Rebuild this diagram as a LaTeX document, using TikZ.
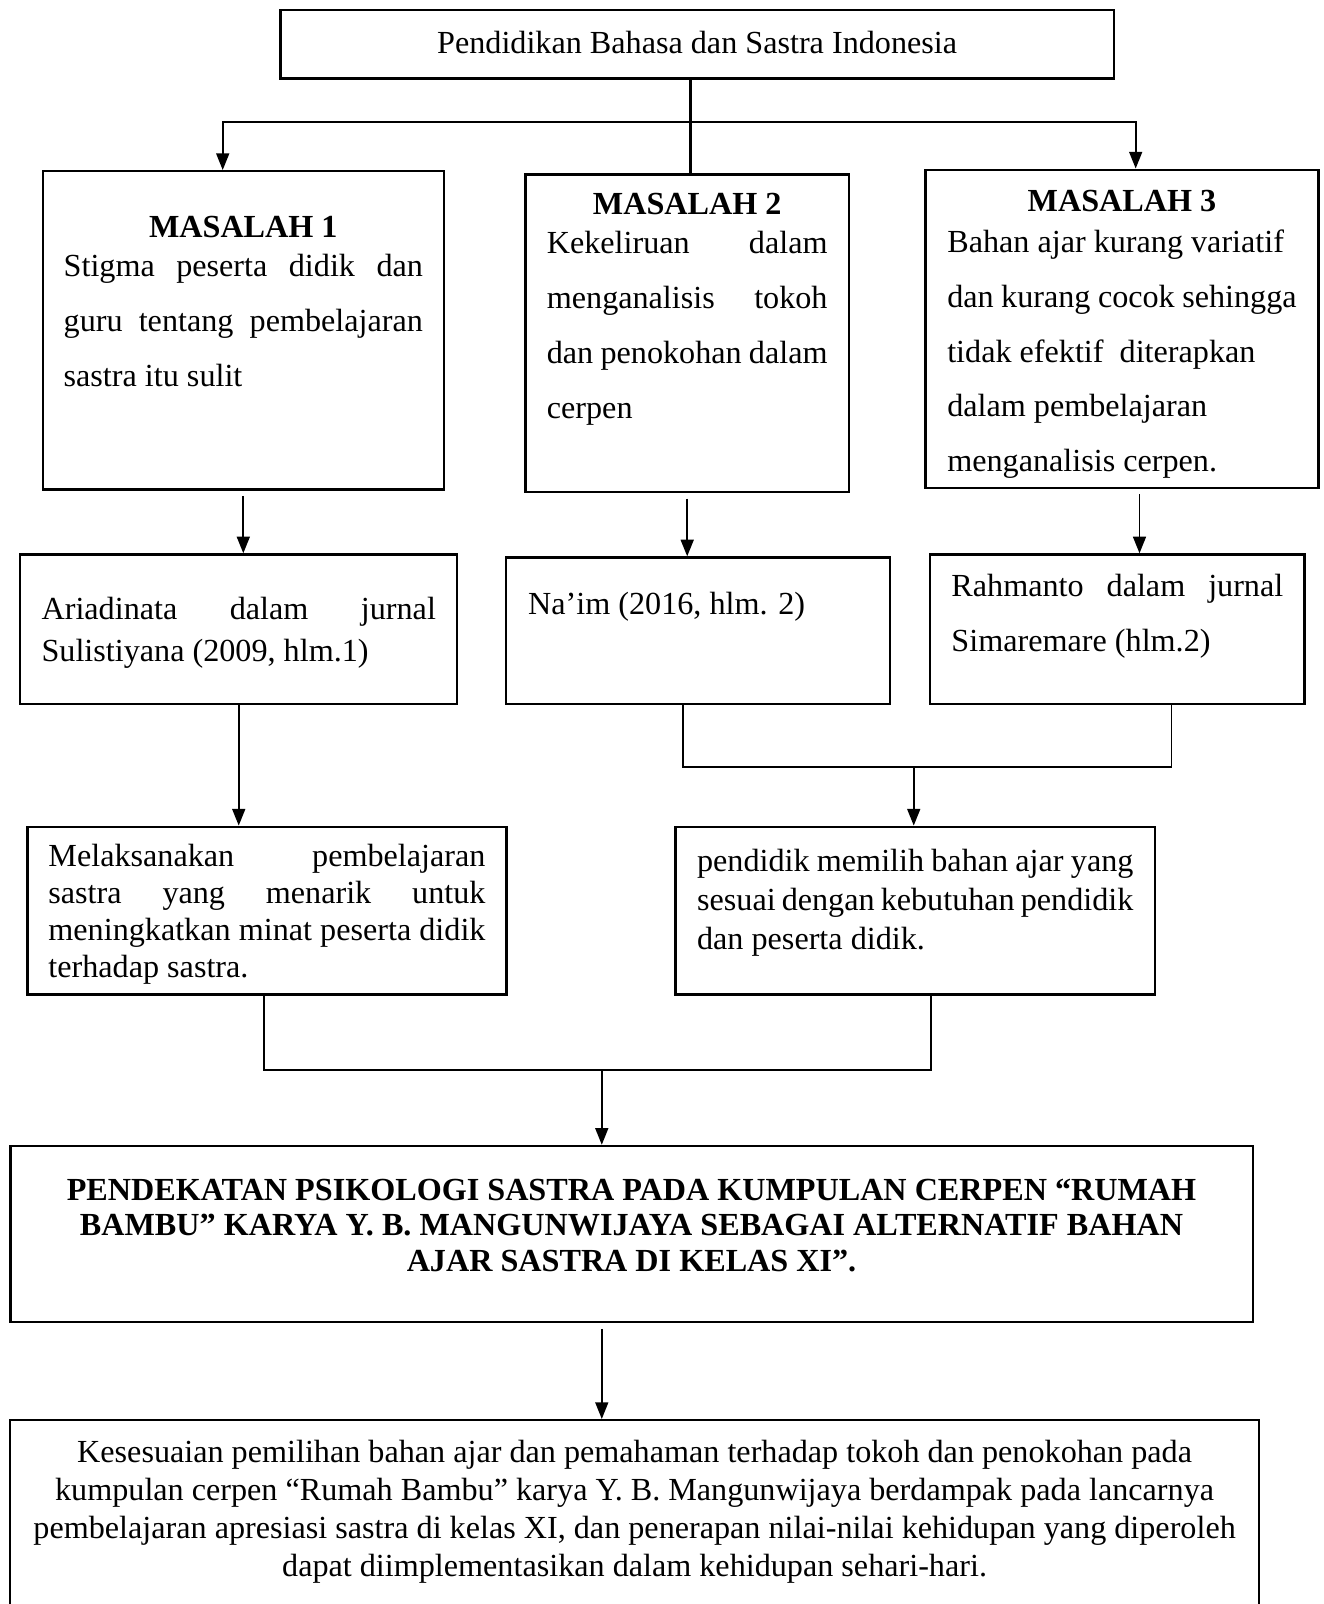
\documentclass[tikz,border=0pt]{standalone}
\usepackage{fontspec}
\setmainfont{Liberation Serif}
\usetikzlibrary{arrows.meta}

\begin{document}
\begin{tikzpicture}[
  kotak/.style={draw, line width=0.9pt, inner sep=0pt,
                font=\fontsize{12pt}{#1}\selectfont},
  kotak/.default=13.8pt,
  garis/.style={line width=0.7pt},
  >={Triangle[length=6.2pt,width=4.8pt]},
  ar/.style={garis, ->},
]
\useasboundingbox (0,0) rectangle (17.35,-21.03);
\clip (0,0) rectangle (17.35,-21.03);

\node[kotak, minimum width=10.93cm, minimum height=0.90cm] (judul) at (9.14,-0.58)
    {\raisebox{1.1pt}{Pendidikan Bahasa dan Sastra Indonesia}};

\node[kotak=20.5pt, minimum width=5.26cm, minimum height=4.17cm] (m1) at (3.19,-4.33)
    {\parbox[c][4.17cm][t]{4.71cm}{\vspace*{16.8pt}%
     {\centering\bfseries MASALAH 1\par}\vspace{-6.0pt}%
     Stigma peserta didik dan\linebreak guru tentang pembelajaran\linebreak sastra itu sulit}};
\node[kotak=20.5pt, minimum width=4.24cm, minimum height=4.16cm] (m2) at (9.01,-4.37)
    {\parbox[c][4.16cm][t]{3.68cm}{\vspace*{7.0pt}%
     {\centering\bfseries MASALAH 2\par}\vspace{-6.1pt}%
     Kekeliruan dalam\linebreak menganalisis tokoh\linebreak dan penokohan dalam\linebreak cerpen}};
\node[kotak=20.5pt, minimum width=5.15cm, minimum height=4.17cm] (m3) at (14.71,-4.31)
    {\parbox[c][4.17cm][t]{4.58cm}{\vspace*{7.6pt}%
     {\centering\bfseries MASALAH 3\par}\vspace{-5.3pt}%
     \raggedright Bahan ajar kurang variatif\\ dan kurang cocok sehingga\\
     tidak efektif\ \ diterapkan\\ dalam pembelajaran\\ menganalisis cerpen.}};

\node[kotak=15.3pt, minimum width=5.73cm, minimum height=1.96cm] (r1) at (3.13,-8.25)
    {\parbox[c][1.96cm][t]{5.17cm}{\vspace*{16.1pt}%
     Ariadinata dalam jurnal\linebreak Sulistiyana (2009, hlm.1)}};
\node[kotak, minimum width=5.03cm, minimum height=1.92cm] (r2) at (9.15,-8.27)
    {\parbox[c][1.92cm][t]{4.45cm}{\vspace*{13.0pt}%
     Na’im (2016, hlm. 2)}};
\node[kotak=20.6pt, minimum width=4.91cm, minimum height=1.96cm] (r3) at (14.65,-8.25)
    {\parbox[c][1.96cm][t]{4.35cm}{\vspace*{7.3pt}%
     Rahmanto dalam jurnal\linebreak Simaremare (hlm.2)}};

\node[kotak=13.9pt, minimum width=6.28cm, minimum height=2.20cm] (mel) at (3.50,-11.94)
    {\parbox[c][2.20cm][t]{5.73cm}{\vspace*{6.3pt}%
     Melaksanakan pembelajaran\linebreak sastra yang menarik untuk\linebreak
     meningkatkan minat peserta didik\linebreak terhadap sastra.}};
\node[kotak=14.7pt, minimum width=6.29cm, minimum height=2.20cm] (pend) at (12.00,-11.94)
    {\parbox[c][2.20cm][t]{5.72cm}{\vspace*{8.2pt}%
     pendidik memilih bahan ajar yang\linebreak sesuai dengan kebutuhan pendidik\linebreak
     dan peserta didik.}};

\node[kotak=13.2pt, minimum width=16.29cm, minimum height=2.31cm] (big) at (8.28,-16.18)
    {\parbox[c][2.31cm][t]{15.6cm}{\vspace*{12.3pt}%
     \centering\bfseries PENDEKATAN PSIKOLOGI SASTRA PADA KUMPULAN CERPEN “RUMAH\\
     BAMBU” KARYA Y. B. MANGUNWIJAYA SEBAGAI ALTERNATIF BAHAN\\
     AJAR SASTRA DI KELAS XI”.}};
\node[kotak=14.1pt, minimum width=16.38cm, minimum height=2.88cm] (final) at (8.32,-20.06)
    {\parbox[c][2.88cm][t]{16.0cm}{\vspace*{7.6pt}%
     \centering Kesesuaian pemilihan bahan ajar dan pemahaman terhadap tokoh dan penokohan pada\\
     kumpulan cerpen “Rumah Bambu” karya Y. B. Mangunwijaya berdampak pada lancarnya\\
     pembelajaran apresiasi sastra di kelas XI, dan penerapan nilai-nilai kehidupan yang diperoleh\\
     dapat diimplementasikan dalam kehidupan sehari-hari.}};

% cabang dari judul
\coordinate (pusat) at (9.05,-1.60);
\coordinate (kiri) at (2.92,-1.60);
\coordinate (kanan) at (14.89,-1.60);
\draw[line width=1.3pt] (judul.south -| pusat) -- (m2.north -| pusat);
\draw[garis, <->] (m1.north -| kiri) -- (kiri) -- (kanan) -- (kanan |- m3.north);

% masalah ke rujukan
\coordinate (m3x) at (14.94,0);
\draw[ar, shorten <=2pt] (m1.south) -- (m1.south |- r1.north);
\draw[ar, shorten <=2pt] (m2.south) -- (m2.south |- r2.north);
\draw[ar, shorten <=2pt] (m3.south -| m3x) -- (r3.north -| m3x);
\draw[ar] (r1.south) -- (r1.south |- mel.north);

% gabungan
\coordinate (r2b) at (8.96,-10.06);
\coordinate (r3b) at (15.36,-10.06);
\coordinate (g1) at (11.98,-10.06);
\draw[garis] (r2.south -| r2b) -- (r2b) -- (r3b) -- (r3.south -| r3b);
\draw[ar] (g1) -- (g1 |- pend.north);

\coordinate (melb) at (3.46,-14.03);
\coordinate (pendb) at (12.21,-14.03);
\coordinate (g2) at (7.89,-14.03);
\draw[garis] (mel.south -| melb) -- (melb) -- (pendb) -- (pend.south -| pendb);
\draw[ar] (g2) -- (g2 |- big.north);
\draw[ar, shorten <=2pt] (big.south -| g2) -- (final.north -| g2);
\end{tikzpicture}
\end{document}
